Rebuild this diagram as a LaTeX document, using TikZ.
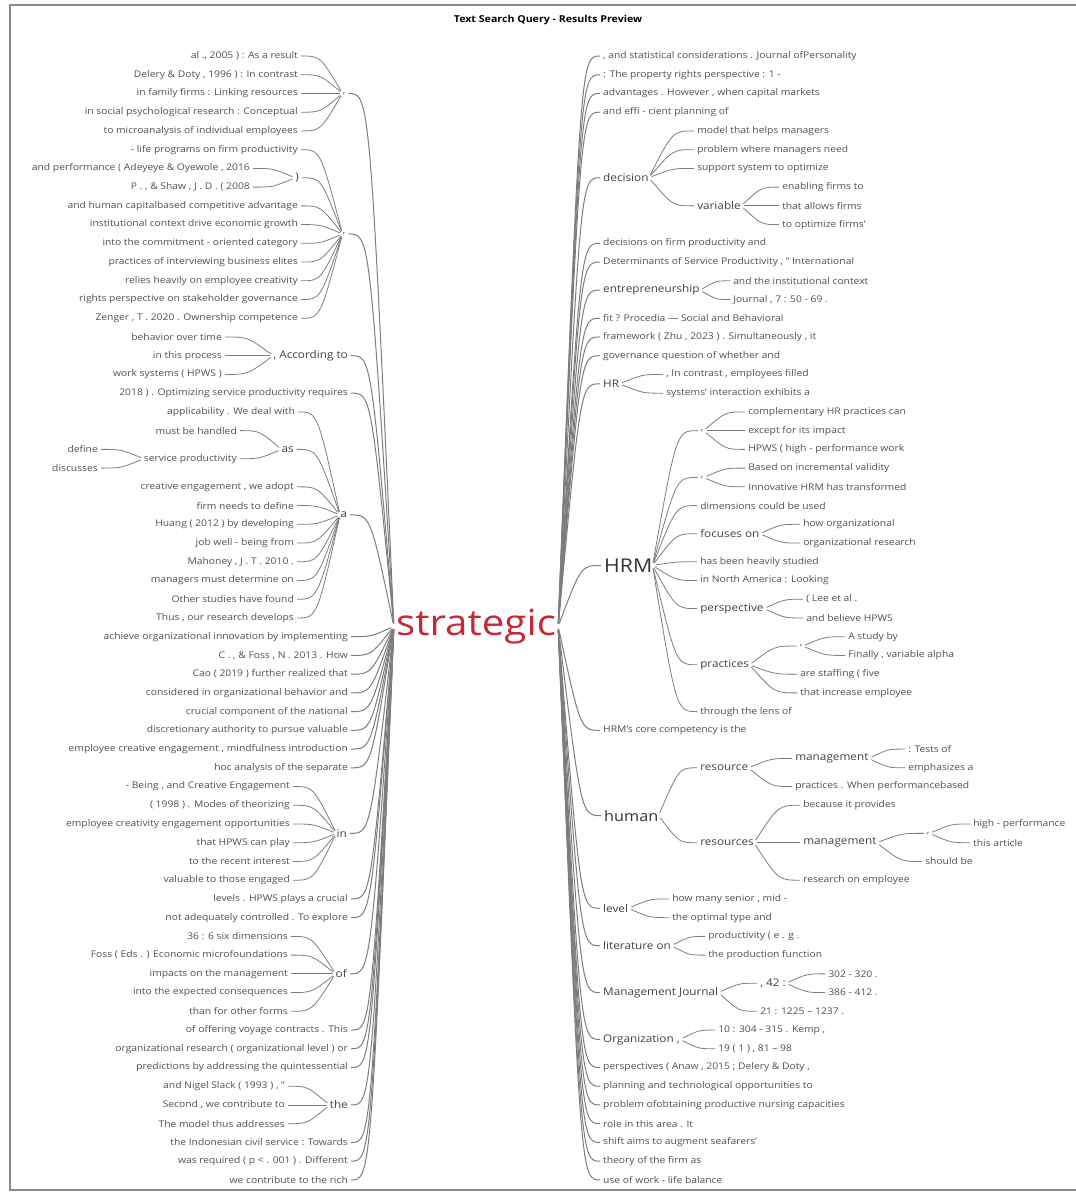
\documentclass[tikz,border=0pt]{standalone}
\usepackage{fontspec}
\setmainfont{Open Sans}[FakeStretch=1.12]
\usetikzlibrary{calc}

\definecolor{treered}{RGB}{200,40,52}
\definecolor{twiggray}{RGB}{125,125,125}
\definecolor{leafgray}{RGB}{80,80,80}
\definecolor{wordgray}{RGB}{65,65,65}
\definecolor{framegray}{RGB}{140,140,140}

\tikzset{
  leaf/.style={inner xsep=0pt, inner ysep=1pt, font=\fontsize{9.2}{10}\selectfont, text=leafgray},
  lleaf/.style={leaf, anchor=east},
  rleaf/.style={leaf, anchor=west},
  word/.style={leaf, font=\fontsize{10.5}{12}\selectfont, text=wordgray},
  lword/.style={word, anchor=east},
  rword/.style={word, anchor=west},
  knot/.style={leaf, anchor=center},
  bigword/.style={rword, font=\fontsize{19}{22}\selectfont, text=black!80},
  rootword/.style={inner xsep=2pt, font=\fontsize{36}{40}\selectfont, text=treered},
  heading/.style={font=\bfseries\fontsize{9.5}{11}\selectfont, text=black},
  twig/.style={draw=twiggray, line width=0.8pt, shorten <=3pt, shorten >=3pt},
  trunk/.style={twig, line width=1pt}
}

% curved connector, bends to horizontal at its end
\newcommand{\twig}[3][]{\draw[twig,#1] let \p1=(#2), \p2=(#3) in (\p1) .. controls ({(\x1+\x2)/2},\y2) .. (\p2);}

\begin{document}
\begin{tikzpicture}[x=1pt,y=-18.73pt]
\useasboundingbox (0,-2.99) rectangle (1075,60.70);
\draw[framegray,line width=1.2pt] (1080,60.54) -- (10,60.54) -- (10,-2.72) -- (1080,-2.72);
\node[heading] (title) at (548,-1.93) {Text Search Query - Results Preview};

\node[rootword] (root) at (476,30.45) {strategic};

% left side
\node[lleaf] (l0) at (298,0) {al ., 2005 ) : As a result};
\node[lleaf] (l1) at (298,1) {Delery \& Doty , 1996 ) : In contrast};
\node[lleaf] (l2) at (298,2) {in family firms : Linking resources};
\node[lleaf] (l3) at (298,3) {in social psychological research : Conceptual};
\node[lleaf] (l4) at (298,4) {to microanalysis of individual employees};
\node[knot] (lcA) at (344,2) {,};
\node[lleaf] (l5) at (298,5) {- life programs on firm productivity};
\node[lleaf] (l6) at (250,6) {and performance ( Adeyeye \& Oyewole , 2016};
\node[lleaf] (l7) at (250,7) {P . , \& Shaw , J . D . ( 2008};
\node[lword] (lpar) at (299,6.5) {)};
\node[lleaf] (l8) at (298,8) {and human capitalbased competitive advantage};
\node[lleaf] (l9) at (298,9) {institutional context drive economic growth};
\node[lleaf] (l10) at (298,10) {into the commitment - oriented category};
\node[lleaf] (l11) at (298,11) {practices of interviewing business elites};
\node[lleaf] (l12) at (298,12) {relies heavily on employee creativity};
\node[lleaf] (l13) at (298,13) {rights perspective on stakeholder governance};
\node[lleaf] (l14) at (298,14) {Zenger , T . 2020 . Ownership competence};
\node[knot] (lcB) at (344,9.5) {,};
\node[lleaf] (l15) at (222,15) {behavior over time};
\node[lleaf] (l16) at (222,16) {in this process};
\node[lleaf] (l17) at (222,17) {work systems ( HPWS )};
\node[lword] (lacc) at (348,16) {, According to};
\node[lleaf] (l18) at (348,18) {2018 ) . Optimizing service productivity requires};
\node[lleaf] (l19) at (295,19) {applicability . We deal with};
\node[lleaf] (l20) at (237,20) {must be handled};
\node[lleaf] (l21) at (98,21) {define};
\node[lleaf] (l22) at (98,22) {discusses};
\node[lleaf] (lsp) at (237,21.5) {service productivity};
\node[lword] (las) at (294,21) {as};
\node[lleaf] (l23) at (294,23) {creative engagement , we adopt};
\node[lleaf] (l24) at (294,24) {firm needs to define};
\node[lleaf] (l25) at (294,25) {Huang ( 2012 ) by developing};
\node[lleaf] (l26) at (294,26) {job well - being from};
\node[lleaf] (l27) at (294,27) {Mahoney , J . T . 2010 .};
\node[lleaf] (l28) at (294,28) {managers must determine on};
\node[lleaf] (l29) at (294,29) {Other studies have found};
\node[lleaf] (l30) at (294,30) {Thus , our research develops};
\node[lword] (la) at (347,24.5) {a};
\node[lleaf] (l31) at (348,31) {achieve organizational innovation by implementing};
\node[lleaf] (l32) at (348,32) {C . , \& Foss , N . 2013 . How};
\node[lleaf] (l33) at (348,33) {Cao ( 2019 ) further realized that};
\node[lleaf] (l34) at (348,34) {considered in organizational behavior and};
\node[lleaf] (l35) at (348,35) {crucial component of the national};
\node[lleaf] (l36) at (348,36) {discretionary authority to pursue valuable};
\node[lleaf] (l37) at (348,37) {employee creative engagement , mindfulness introduction};
\node[lleaf] (l38) at (348,38) {hoc analysis of the separate};
\node[lleaf] (l39) at (290,39) {- Being , and Creative Engagement};
\node[lleaf] (l40) at (290,40) {( 1998 ) . Modes of theorizing};
\node[lleaf] (l41) at (290,41) {employee creativity engagement opportunities};
\node[lleaf] (l42) at (290,42) {that HPWS can play};
\node[lleaf] (l43) at (290,43) {to the recent interest};
\node[lleaf] (l44) at (290,44) {valuable to those engaged};
\node[lword] (lin) at (347,41.5) {in};
\node[lleaf] (l45) at (348,45) {levels . HPWS plays a crucial};
\node[lleaf] (l46) at (348,46) {not adequately controlled . To explore};
\node[lleaf] (l47) at (288,47) {36 : 6 six dimensions};
\node[lleaf] (l48) at (288,48) {Foss ( Eds . ) Economic microfoundations};
\node[lleaf] (l49) at (288,49) {impacts on the management};
\node[lleaf] (l50) at (288,50) {into the expected consequences};
\node[lleaf] (l51) at (288,51) {than for other forms};
\node[lword] (lof) at (347,49) {of};
\node[lleaf] (l52) at (348,52) {of offering voyage contracts . This};
\node[lleaf] (l53) at (348,53) {organizational research ( organizational level ) or};
\node[lleaf] (l54) at (348,54) {predictions by addressing the quintessential};
\node[lleaf] (l55) at (285,55) {and Nigel Slack ( 1993 ) , "};
\node[lleaf] (l56) at (285,56) {Second , we contribute to};
\node[lleaf] (l57) at (285,57) {The model thus addresses};
\node[lword] (lthe) at (348,56) {the};
\node[lleaf] (l58) at (348,58) {the Indonesian civil service : Towards};
\node[lleaf] (l59) at (348,59) {was required ( p < . 001 ) . Different};
\node[lleaf] (l60) at (348,60) {we contribute to the rich};

\foreach \i in {0,...,4} {\twig{lcA.west}{l\i.east}}
\foreach \i in {6,7} {\twig{lpar.west}{l\i.east}}
\foreach \c in {l5,lpar,l8,l9,l10,l11,l12,l13,l14} {\twig{lcB.west}{\c.east}}
\foreach \i in {15,16,17} {\twig{lacc.west}{l\i.east}}
\foreach \i in {21,22} {\twig{lsp.west}{l\i.east}}
\foreach \c in {l20,lsp} {\twig{las.west}{\c.east}}
\foreach \c in {l19,las,l23,l24,l25,l26,l27,l28,l29,l30} {\twig{la.west}{\c.east}}
\foreach \i in {39,...,44} {\twig{lin.west}{l\i.east}}
\foreach \i in {47,...,51} {\twig{lof.west}{l\i.east}}
\foreach \i in {55,56,57} {\twig{lthe.west}{l\i.east}}
\foreach \c in {lcA,lcB,lacc,l18,la,l31,l32,l33,l34,l35,l36,l37,l38,lin,l45,l46,lof,l52,l53,l54,lthe,l58,l59,l60}
  {\twig[trunk]{root.west}{\c.east}}

% right side
\node[rleaf] (r0) at (603,0) {, and statistical considerations . Journal ofPersonality};
\node[rleaf] (r1) at (603,1) {: The property rights perspective : 1 -};
\node[rleaf] (r2) at (603,2) {advantages . However , when capital markets};
\node[rleaf] (r3) at (603,3) {and effi - cient planning of};
\node[rword] (rdec) at (603,6.5) {decision};
\node[rleaf] (r4) at (697,4) {model that helps managers};
\node[rleaf] (r5) at (697,5) {problem where managers need};
\node[rleaf] (r6) at (697,6) {support system to optimize};
\node[rword] (rvar) at (697,8) {variable};
\node[rleaf] (r7) at (782,7) {enabling firms to};
\node[rleaf] (r8) at (782,8) {that allows firms};
\node[rleaf] (r9) at (782,9) {to optimize firms'};
\node[rleaf] (r10) at (603,10) {decisions on firm productivity and};
\node[rleaf] (r11) at (603,11) {Determinants of Service Productivity , " International};
\node[rword] (rent) at (603,12.5) {entrepreneurship};
\node[rleaf] (r12) at (733,12) {and the institutional context};
\node[rleaf] (r13) at (733,13) {Journal , 7 : 50 - 69 .};
\node[rleaf] (r14) at (603,14) {fit ? Procedia — Social and Behavioral};
\node[rleaf] (r15) at (603,15) {framework ( Zhu , 2023 ) . Simultaneously , it};
\node[rleaf] (r16) at (603,16) {governance question of whether and};
\node[rword] (rhr) at (603,17.5) {HR};
\node[rleaf] (r17) at (666,17) {, In contrast , employees filled};
\node[rleaf] (r18) at (666,18) {systems' interaction exhibits a};
\node[bigword] (rhrm) at (604,27.2) {HRM};
\node[knot] (rcA) at (702,20) {,};
\node[rleaf] (r19) at (748,19) {complementary HR practices can};
\node[rleaf] (r20) at (748,20) {except for its impact};
\node[rleaf] (r21) at (748,21) {HPWS ( high - performance work};
\node[knot] (rcB) at (702,22.5) {,};
\node[rleaf] (r22) at (748,22) {Based on incremental validity};
\node[rleaf] (r23) at (748,23) {Innovative HRM has transformed};
\node[rleaf] (r24) at (700,24) {dimensions could be used};
\node[rword] (rfoc) at (700,25.5) {focuses on};
\node[rleaf] (r25) at (803,25) {how organizational};
\node[rleaf] (r26) at (803,26) {organizational research};
\node[rleaf] (r27) at (700,27) {has been heavily studied};
\node[rleaf] (r28) at (700,28) {in North America : Looking};
\node[rword] (rper) at (700,29.5) {perspective};
\node[rleaf] (r29) at (806,29) {( Lee et al .};
\node[rleaf] (r30) at (806,30) {and believe HPWS};
\node[rword] (rpra) at (700,32.5) {practices};
\node[knot] (rcC) at (801,31.5) {,};
\node[rleaf] (r31) at (848,31) {A study by};
\node[rleaf] (r32) at (848,32) {Finally , variable alpha};
\node[rleaf] (r33) at (800,33) {are staffing ( five};
\node[rleaf] (r34) at (800,34) {that increase employee};
\node[rleaf] (r35) at (700,35) {through the lens of};
\node[rleaf] (r36) at (603,36) {HRM's core competency is the};
\node[bigword,font=\fontsize{14.5}{17}\selectfont] (rhum) at (604,40.55) {human};
\node[rword] (rres) at (700,38) {resource};
\node[rword] (rman) at (795,37.5) {management};
\node[rleaf] (r37) at (908,37) {: Tests of};
\node[rleaf] (r38) at (908,38) {emphasizes a};
\node[rleaf] (r39) at (795,39) {practices . When performancebased};
\node[rword] (rress) at (700,42) {resources};
\node[rleaf] (r40) at (803,40) {because it provides};
\node[rword] (rmanB) at (803,42) {management};
\node[knot] (rcD) at (928,41.5) {,};
\node[rleaf] (r41) at (973,41) {high - performance};
\node[rleaf] (r42) at (973,42) {this article};
\node[rleaf] (r43) at (925,43) {should be};
\node[rleaf] (r44) at (803,44) {research on employee};
\node[rword] (rlev) at (603,45.5) {level};
\node[rleaf] (r45) at (672,45) {how many senior , mid -};
\node[rleaf] (r46) at (672,46) {the optimal type and};
\node[rword] (rlit) at (603,47.5) {literature on};
\node[rleaf] (r47) at (708,47) {productivity ( e . g .};
\node[rleaf] (r48) at (708,48) {the production function};
\node[rword] (rmj) at (603,50) {Management Journal};
\node[rword] (rvol) at (760,49.5) {, 42 :};
\node[rleaf] (r49) at (828,49) {302 - 320 .};
\node[rleaf] (r50) at (828,50) {386 - 412 .};
\node[rleaf] (r51) at (760,51) {21 : 1225 – 1237 .};
\node[rword] (rorg) at (603,52.5) {Organization ,};
\node[rleaf] (r52) at (718,52) {10 : 304 - 315 . Kemp ,};
\node[rleaf] (r53) at (718,53) {19 ( 1 ) , 81 – 98};
\node[rleaf] (r54) at (603,54) {perspectives ( Anaw , 2015 ; Delery \& Doty ,};
\node[rleaf] (r55) at (603,55) {planning and technological opportunities to};
\node[rleaf] (r56) at (603,56) {problem ofobtaining productive nursing capacities};
\node[rleaf] (r57) at (603,57) {role in this area . It};
\node[rleaf] (r58) at (603,58) {shift aims to augment seafarers'};
\node[rleaf] (r59) at (603,59) {theory of the firm as};
\node[rleaf] (r60) at (603,60) {use of work - life balance};

\foreach \c in {r4,r5,r6,rvar} {\twig{rdec.east}{\c.west}}
\foreach \i in {7,8,9} {\twig{rvar.east}{r\i.west}}
\foreach \i in {12,13} {\twig{rent.east}{r\i.west}}
\foreach \i in {17,18} {\twig{rhr.east}{r\i.west}}
\foreach \i in {19,20,21} {\twig{rcA.east}{r\i.west}}
\foreach \i in {22,23} {\twig{rcB.east}{r\i.west}}
\foreach \i in {25,26} {\twig{rfoc.east}{r\i.west}}
\foreach \i in {29,30} {\twig{rper.east}{r\i.west}}
\foreach \i in {31,32} {\twig{rcC.east}{r\i.west}}
\foreach \c in {rcC,r33,r34} {\twig{rpra.east}{\c.west}}
\foreach \c in {rcA,rcB,r24,rfoc,r27,r28,rper,rpra,r35} {\twig{rhrm.east}{\c.west}}
\foreach \i in {37,38} {\twig{rman.east}{r\i.west}}
\foreach \c in {rman,r39} {\twig{rres.east}{\c.west}}
\foreach \i in {41,42} {\twig{rcD.east}{r\i.west}}
\foreach \c in {rcD,r43} {\twig{rmanB.east}{\c.west}}
\foreach \c in {r40,rmanB,r44} {\twig{rress.east}{\c.west}}
\foreach \c in {rres,rress} {\twig{rhum.east}{\c.west}}
\foreach \i in {45,46} {\twig{rlev.east}{r\i.west}}
\foreach \i in {47,48} {\twig{rlit.east}{r\i.west}}
\foreach \i in {49,50} {\twig{rvol.east}{r\i.west}}
\foreach \c in {rvol,r51} {\twig{rmj.east}{\c.west}}
\foreach \i in {52,53} {\twig{rorg.east}{r\i.west}}
\foreach \c in {r0,r1,r2,r3,rdec,r10,r11,rent,r14,r15,r16,rhr,rhrm,r36,rhum,rlev,rlit,rmj,rorg,r54,r55,r56,r57,r58,r59,r60}
  {\twig[trunk]{root.east}{\c.west}}
\end{tikzpicture}
\end{document}
